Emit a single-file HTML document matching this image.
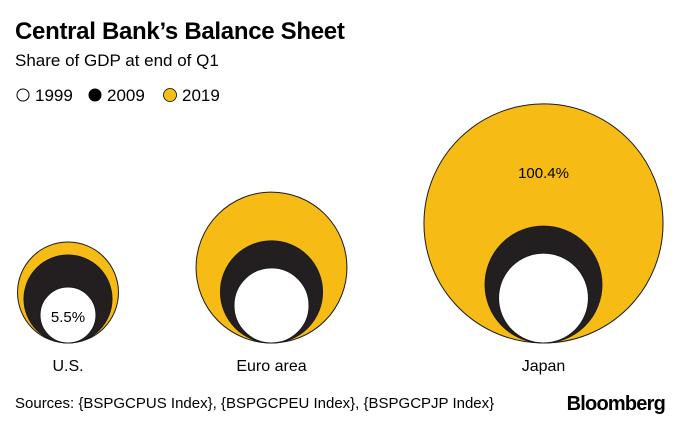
<!DOCTYPE html>
<html><head><meta charset="utf-8"><style>
body{margin:0;background:#fff;width:680px;height:421px;overflow:hidden;font-family:"Liberation Sans",sans-serif}
</style></head><body>
<svg width="680" height="421">
<text x="15" y="39" font-size="24" font-weight="bold" fill="#000" letter-spacing="-0.3">Central Bank’s Balance Sheet</text>
<text x="15" y="66" font-size="17" fill="#000">Share of GDP at end of Q1</text>
<g>
<circle cx="23" cy="95" r="6" fill="#fff" stroke="#000" stroke-width="1"/>
<text x="35" y="101" font-size="17">1999</text>
<circle cx="95" cy="95" r="6.5" fill="#000"/>
<text x="107" y="101" font-size="17">2009</text>
<circle cx="170" cy="95" r="6.5" fill="#f7bf16" stroke="#000" stroke-width="0.8"/>
<text x="182" y="101" font-size="17">2019</text>
</g>
<g id="plot"></g>
<text x="15" y="408" font-size="15" fill="#000">Sources: {BSPGCPUS Index}, {BSPGCPEU Index}, {BSPGCPJP Index}</text>
<text x="665" y="410" font-size="20" font-weight="bold" text-anchor="end" letter-spacing="-0.8">Bloomberg</text>
</svg>
<script>
const regions = ["U.S.", "Euro area", "Japan"];
const v1999 = [5.5, 9.9, 14.2];
const v2009 = [13.6, 18.3, 24.0];
const v2019 = [17.9, 40.0, 100.4];
const centersX = [68, 271.5, 543.5];
const baseY = 343, k = 11.93;
const r = v => k * Math.sqrt(v);
const g = document.getElementById('plot');
const NS = 'http://www.w3.org/2000/svg';
function circ(cx, v, fill, name) {
  const c = document.createElementNS(NS, 'circle');
  const rr = r(v);
  c.setAttribute('cx', cx); c.setAttribute('cy', baseY - rr); c.setAttribute('r', rr);
  c.setAttribute('fill', fill); c.setAttribute('stroke', '#1a1a1a'); c.setAttribute('stroke-width', '1');
  
  
  g.appendChild(c);
}
regions.forEach((reg, i) => {
  const cx = centersX[i];
  const key = reg.toLowerCase().replace(/[^a-z]+/g, '-').replace(/-$/, '');
  circ(cx, v2019[i], '#f7bb16', 'bubble-2019-' + key);
  circ(cx, v2009[i], '#231f20', 'bubble-2009-' + key);
  circ(cx, v1999[i], '#ffffff', 'bubble-1999-' + key);
  const t = document.createElementNS(NS, 'text');
  t.setAttribute('x', cx); t.setAttribute('y', 371); t.setAttribute('text-anchor', 'middle');
  t.setAttribute('font-size', '16');
  t.textContent = reg;
  
  
  g.appendChild(t);
});
const a1 = document.createElementNS(NS, 'text');
a1.setAttribute('x', centersX[0]); a1.setAttribute('y', baseY - r(v1999[0]) + 7);
a1.setAttribute('text-anchor', 'middle'); a1.setAttribute('font-size', '15');
a1.textContent = v1999[0] + '%';


g.appendChild(a1);
const a2 = document.createElementNS(NS, 'text');
a2.setAttribute('x', centersX[2]); a2.setAttribute('y', baseY - 2 * r(v2019[2]) + 74);
a2.setAttribute('text-anchor', 'middle'); a2.setAttribute('font-size', '15');
a2.textContent = v2019[2] + '%';


g.appendChild(a2);
</script>
</body></html>
